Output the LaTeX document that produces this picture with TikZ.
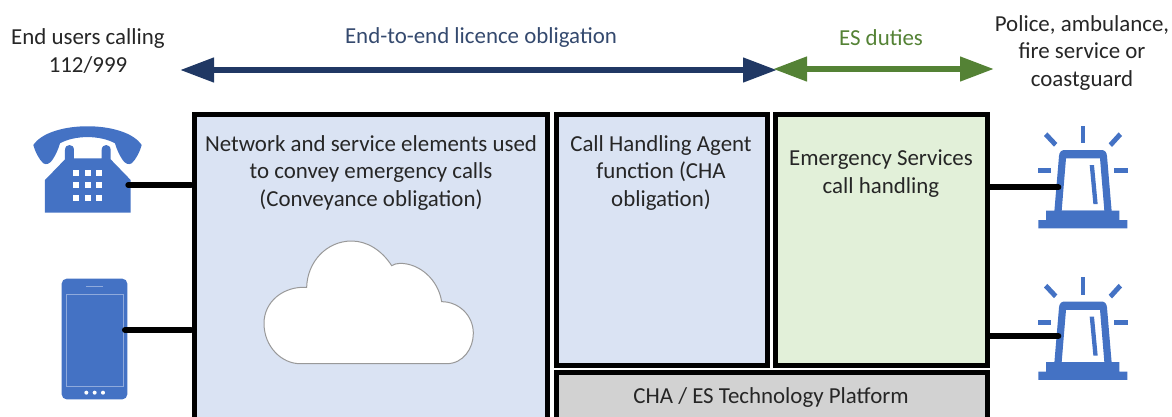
\documentclass[tikz,border=0pt]{standalone}
\usepackage{fontspec}
\setmainfont{Carlito}
\usetikzlibrary{arrows.meta}
\definecolor{iconblue}{HTML}{4472C4}
\definecolor{screenline}{HTML}{8FAADC}
\definecolor{navyarrow}{HTML}{203864}
\definecolor{greenarrow}{HTML}{548235}
\definecolor{panelblue}{HTML}{DAE3F3}
\definecolor{panelgreen}{HTML}{E2F0D9}
\definecolor{panelgrey}{HTML}{D2D2D2}
\definecolor{bodytext}{HTML}{262626}
\definecolor{titleblue}{HTML}{34496E}
\tikzset{
  panel/.style={draw=black,line width=5pt,rectangle,inner sep=0pt,outer sep=0pt,anchor=north west},
  txt/.style={text=bodytext,align=center,inner sep=0pt,font=\fontsize{22.9}{27.6}\selectfont},
  wire/.style={draw=black,line width=6pt,line cap=round,shorten >=3pt},
  span/.style={line width=6pt,{Triangle[length=34pt,width=23.5pt]}-{Triangle[length=34pt,width=23.5pt]}},
  beacon/.pic={
    \fill[iconblue] (205,355)--(472,355)--(472,330)--(448,330)--(448,302)--(228,302)--(228,330)--(205,330)--cycle;
    \fill[iconblue,even odd rule] (253,304)--(267,138) .. controls (268,126) and (274,120) .. (284,120)--(394,120) .. controls (404,120) and (410,126) .. (411,138)--(425,304)--cycle
      (275,302)--(288,145)--(390,145)--(403,302)--cycle;
    \fill[iconblue] (359,165)--(372,165)--(383,282)--(370,282)--cycle;
    \fill[iconblue] (332,47) rectangle (346,100);
    \fill[iconblue] (205,174) rectangle (243,190);
    \fill[iconblue] (433,174) rectangle (473,190);
    \fill[iconblue] (232,67)--(262,99)--(252,110)--(222,78)--cycle;
    \fill[iconblue] (446,67)--(456,78)--(426,111)--(416,100)--cycle;
  }
}
\begin{document}
\begin{tikzpicture}[x=1pt,y=-1pt]
\useasboundingbox (0,0) rectangle (1172,416);
\clip (0,0) rectangle (1172,416);

% panels
\node[panel,fill=panelblue,minimum width=353pt,minimum height=330pt] (conv) at (194,114) {};
\node[panel,fill=panelblue,minimum width=211.5pt,minimum height=251pt] (cha) at (556,114) {};
\node[panel,fill=panelgreen,minimum width=212pt,minimum height=251pt] (es) at (775,114) {};
\node[panel,fill=panelgrey,minimum width=431pt,minimum height=70pt] (plat) at (556,372.5) {};

% panel texts
\node[txt] (convtext) at (371,173) {Network and service elements used\\to convey emergency calls\\(Conveyance obligation)};
\node[txt] (chatext) at (661,173) {Call Handling Agent\\function (CHA\\obligation)};
\node[txt] (estext) at (881,173.5) {Emergency Services\\call handling};
\node[txt] (plattext) at (771,398) {CHA / ES Technology Platform};

% heading texts
\node[txt] (users) at (88,51) {End users calling\\112/999};
\node[txt,text=titleblue] (e2e) at (481,38) {End-to-end licence obligation};
\node[txt,text=greenarrow] (duties) at (881,38) {ES duties};
\node[txt] (police) at (1082,53) {Police, ambulance,\\fire service or\\coastguard};

% span arrows
\coordinate (spanL) at (180,70);
\coordinate (spanM) at (777,70);
\coordinate (spanMg) at (773,69);
\coordinate (spanR) at (994,69);
\draw[span,navyarrow] (spanL) -- (spanM);
\draw[span,greenarrow] (spanMg) -- (spanR);

% telephone
\begin{scope}[shift={(0,110)},x=1/3*1pt,y=-1/3*1pt]
  \fill[iconblue] (100,105) .. controls (150,30) and (375,30) .. (425,105)
    .. controls (420,125) and (408,148) .. (395,160)
    .. controls (385,166) and (375,160) .. (368,150)
    .. controls (358,135) and (350,118) .. (345,100)
    .. controls (300,75) and (225,75) .. (180,100)
    .. controls (175,118) and (167,135) .. (157,150)
    .. controls (150,160) and (140,166) .. (130,160)
    .. controls (117,148) and (105,125) .. cycle;
  \fill[iconblue] (135,308)--(392,308)--(392,210)--(332,148)--(332,120)
    .. controls (332,100) and (305,100) .. (305,120)--(305,145)--(222,145)--(222,120)
    .. controls (222,100) and (195,100) .. (195,120)--(195,148)--(135,210)--cycle;
  \foreach \kx in {229,263,297}
    \foreach \ky in {189,226,263}
      \fill[white] (\kx-9,\ky-9) rectangle (\kx+9,\ky+9);
  \coordinate (phoneport) at (385,225);
\end{scope}

% mobile
\begin{scope}[shift={(0,110)},x=1/3*1pt,y=-1/3*1pt]
  \fill[iconblue,rounded corners=5pt] (185,506) rectangle (382,868);
  \draw[screenline,line width=1pt] (199,553) rectangle (370,828);
  \draw[screenline,line width=1pt] (258,530) -- (310,530);
  \foreach \dx in {259,284,309}
    \fill[white] (\dx,848) circle[radius=2pt];
  \coordinate (mobileport) at (375,660);
\end{scope}

% beacons
\begin{scope}[shift={(970,110)},x=1/3*1pt,y=-1/3*1pt]
  \pic (beaconA) at (0,0) {beacon};
  \coordinate (beaconAport) at (265,232);
\end{scope}
\begin{scope}[shift={(970,261.5)},x=1/3*1pt,y=-1/3*1pt]
  \pic (beaconB) at (0,0) {beacon};
  \coordinate (beaconBport) at (265,223.5);
\end{scope}

% cloud
\begin{scope}[shift={(250,230)},x=1/3*1pt,y=-1/3*1pt]
  \draw[fill=white,draw=black!40,line width=1pt] (150,401) -- (590,401)
    .. controls (640,401) and (670,355) .. (670,310)
    .. controls (670,255) and (625,215) .. (575,215)
    .. controls (565,150) and (510,100) .. (450,100)
    .. controls (440,100) and (432,103) .. (425,107)
    .. controls (395,60) and (350,33) .. (305,33)
    .. controls (230,33) and (172,95) .. (170,172)
    .. controls (100,168) and (42,215) .. (42,280)
    .. controls (42,350) and (95,401) .. (150,401) -- cycle;
\end{scope}

% connectors
\draw[wire] (phoneport) -- (phoneport -| conv.west);
\draw[wire] (mobileport) -- (mobileport -| conv.west);
\draw[wire] (beaconAport) -- (beaconAport -| es.east);
\draw[wire] (beaconBport) -- (beaconBport -| es.east);
\end{tikzpicture}
\end{document}
